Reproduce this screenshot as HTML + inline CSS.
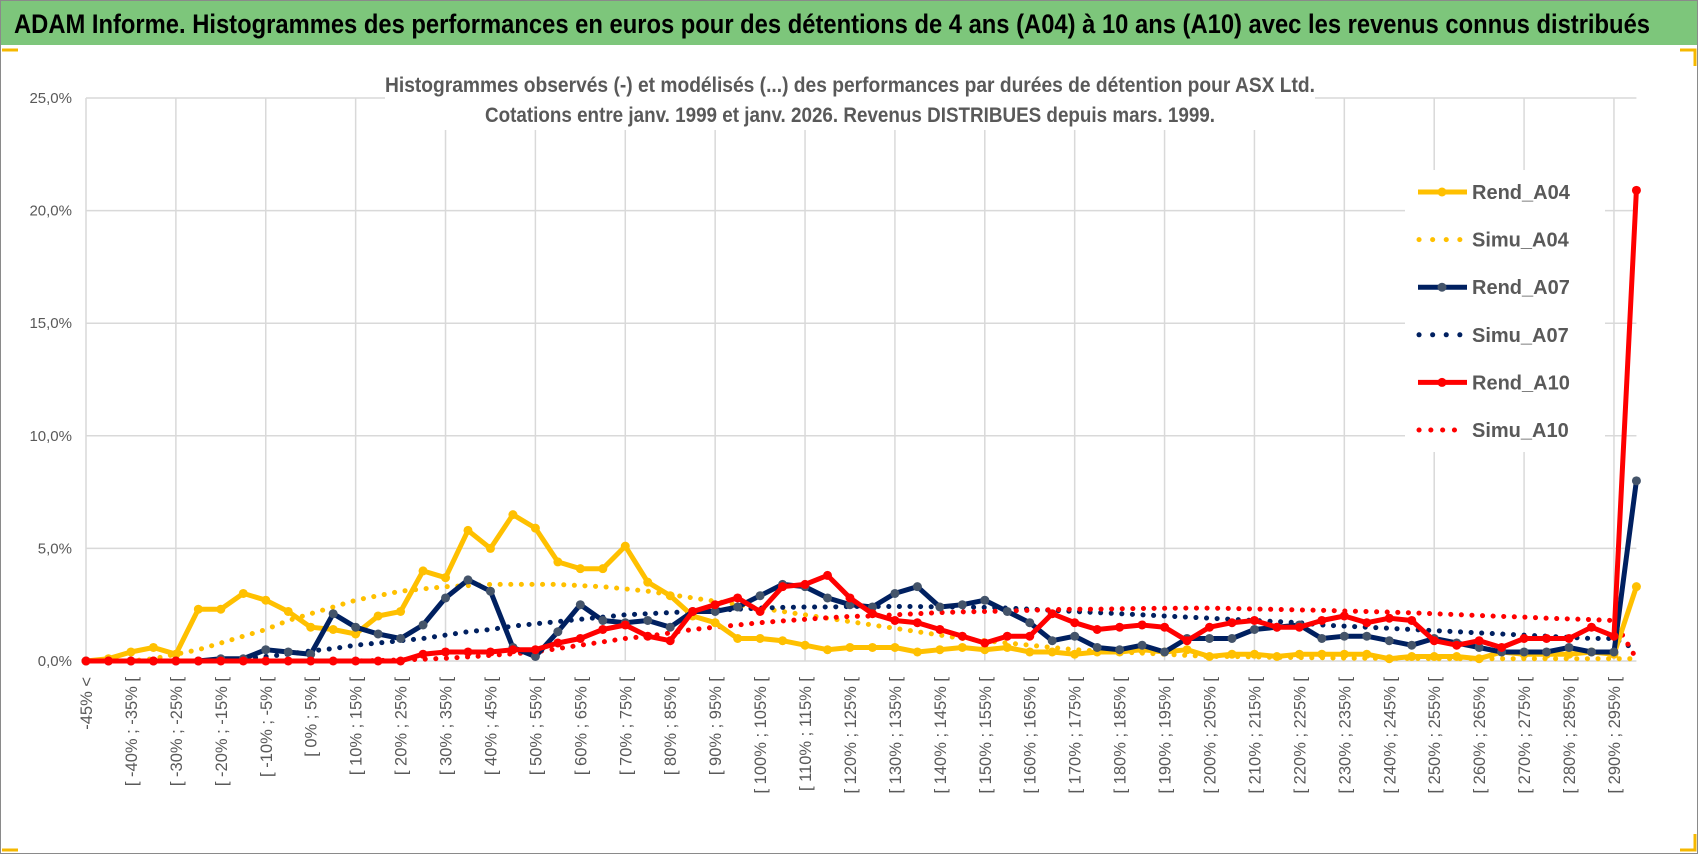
<!DOCTYPE html>
<html><head><meta charset="utf-8"><style>
html,body{margin:0;padding:0;background:#fff;}
svg{display:block;font-family:"Liberation Sans Narrow","Liberation Sans",sans-serif;}
</style></head><body>
<svg id="c" width="1698" height="854" viewBox="0 0 1698 854" xmlns="http://www.w3.org/2000/svg">
<rect x="0.5" y="0.5" width="1697" height="853" fill="#fff" stroke="#8a8a8a"/>
<rect x="1" y="1" width="1696" height="44" fill="#7dc67b"/>
<text x="14" y="33" font-size="27" font-weight="bold" fill="#000" textLength="1636" lengthAdjust="spacingAndGlyphs">ADAM Informe. Histogrammes des performances en euros pour des détentions de 4 ans (A04) à 10 ans (A10) avec les revenus connus distribués</text>
<path d="M2 50 H18 M1680 50 H1695 V66 M2 850 H18 M1680 850 H1695 V834" stroke="#f5b800" stroke-width="3" fill="none"/>
<g id="grid"></g>
<rect x="385" y="66" width="930" height="64" fill="#fff"/>
<text x="850" y="92" font-size="21" font-weight="bold" fill="#595959" text-anchor="middle" textLength="930" lengthAdjust="spacingAndGlyphs">Histogrammes observés (-) et modélisés (...) des performances par durées de détention pour ASX Ltd.</text>
<text x="850" y="122" font-size="21" font-weight="bold" fill="#595959" text-anchor="middle" textLength="730" lengthAdjust="spacingAndGlyphs">Cotations entre janv. 1999 et janv. 2026. Revenus DISTRIBUES depuis mars. 1999.</text>
<g id="yaxis"></g>
<g id="xaxis"></g>
<rect x="1405" y="170" width="200" height="282" fill="#fff"/>
<g id="series"></g>
<g id="legend"></g>
</svg>
<script>
const categories = [];
for (let i = 0; i < 70; i++) categories.push(i === 0 ? "-45% <" : "[ " + (-45 + 5 * (i - 1)) + "% ; " + (-40 + 5 * (i - 1)) + "% [");
const yTicks = [0, 5, 10, 15, 20, 25];
const yTickLabels = ["0,0%", "5,0%", "10,0%", "15,0%", "20,0%", "25,0%"];
const rendA04 = [0,0.1,0.4,0.6,0.3,2.3,2.3,3.0,2.7,2.2,1.5,1.4,1.2,2.0,2.2,4.0,3.7,5.8,5.0,6.5,5.9,4.4,4.1,4.1,5.1,3.5,2.9,2.0,1.7,1.0,1.0,0.9,0.7,0.5,0.6,0.6,0.6,0.4,0.5,0.6,0.5,0.6,0.4,0.4,0.3,0.4,0.4,0.5,0.4,0.5,0.2,0.3,0.3,0.2,0.3,0.3,0.3,0.3,0.1,0.2,0.2,0.2,0.1,0.4,0.3,0.3,0.3,0.4,0.3,3.3];
const simuA04 = [0,0,0,0.1,0.3,0.5,0.8,1.1,1.4,1.8,2.1,2.4,2.7,2.9,3.1,3.2,3.3,3.35,3.4,3.4,3.4,3.4,3.35,3.3,3.2,3.1,2.95,2.8,2.65,2.5,2.35,2.2,2.05,1.9,1.75,1.6,1.45,1.3,1.15,1.0,0.9,0.8,0.7,0.6,0.5,0.45,0.4,0.35,0.3,0.25,0.2,0.2,0.18,0.16,0.15,0.14,0.13,0.12,0.12,0.11,0.1,0.1,0.1,0.1,0.1,0.1,0.1,0.1,0.1,0.1];
const rendA07 = [0,0,0,0,0,0,0.1,0.1,0.5,0.4,0.3,2.1,1.5,1.2,1.0,1.6,2.8,3.6,3.1,0.6,0.2,1.3,2.5,1.8,1.7,1.8,1.5,2.2,2.2,2.4,2.9,3.4,3.3,2.8,2.5,2.4,3.0,3.3,2.4,2.5,2.7,2.2,1.7,0.9,1.1,0.6,0.5,0.7,0.4,1.0,1.0,1.0,1.4,1.5,1.6,1.0,1.1,1.1,0.9,0.7,1.0,0.8,0.6,0.4,0.4,0.4,0.6,0.4,0.4,8.0];
const simuA07 = [0,0,0,0,0,0,0.05,0.1,0.2,0.3,0.45,0.55,0.7,0.8,0.9,1.0,1.15,1.3,1.4,1.55,1.65,1.75,1.85,1.95,2.05,2.1,2.15,2.2,2.25,2.3,2.35,2.38,2.4,2.4,2.42,2.42,2.42,2.42,2.4,2.4,2.38,2.35,2.3,2.25,2.2,2.15,2.1,2.05,2.0,1.95,1.9,1.85,1.8,1.75,1.7,1.6,1.55,1.5,1.45,1.4,1.35,1.3,1.25,1.2,1.15,1.1,1.05,1.0,1.0,0.5];
const rendA10 = [0,0,0,0,0,0,0,0,0,0,0,0,0,0,0,0.3,0.4,0.4,0.4,0.5,0.5,0.8,1.0,1.4,1.6,1.1,0.9,2.2,2.5,2.8,2.2,3.3,3.4,3.8,2.8,2.1,1.8,1.7,1.4,1.1,0.8,1.1,1.1,2.1,1.7,1.4,1.5,1.6,1.5,0.9,1.5,1.7,1.8,1.5,1.5,1.8,2.0,1.7,1.9,1.8,0.9,0.7,0.9,0.6,1.0,1.0,1.0,1.5,1.1,20.9];
const simuA10 = [0,0,0,0,0,0,0,0,0,0,0,0,0,0.02,0.05,0.08,0.12,0.18,0.25,0.32,0.4,0.55,0.7,0.85,1.0,1.1,1.25,1.4,1.5,1.6,1.7,1.78,1.85,1.92,1.98,2.0,2.05,2.1,2.15,2.18,2.2,2.22,2.25,2.28,2.3,2.3,2.32,2.33,2.34,2.35,2.35,2.33,2.31,2.29,2.27,2.25,2.22,2.2,2.17,2.14,2.1,2.06,2.02,1.98,1.95,1.9,1.87,1.84,1.8,0.1];

const NS = "http://www.w3.org/2000/svg";
const X0 = 86, DX = 22.47, Y0 = 661, PX = 22.52;
function xs(i) { return X0 + i * DX; }
function ys(v) { return Y0 - v * PX; }
function mk(tag, attrs, parent) {
  const e = document.createElementNS(NS, tag);
  for (const k in attrs) e.setAttribute(k, attrs[k]);
  parent.appendChild(e);
  return e;
}
const grid = document.getElementById('grid');
yTicks.forEach((t, k) => {
  const l = mk('line', {x1: X0, x2: xs(69), y1: ys(t), y2: ys(t), stroke: '#d9d9d9', 'stroke-width': 1.5}, grid);
  
  
});
for (let i = 0; i < 70; i += 4) {
  const l = mk('line', {x1: xs(i), x2: xs(i), y1: ys(25), y2: Y0, stroke: '#d9d9d9', 'stroke-width': 1.5}, grid);
  
  
}
const ya = document.getElementById('yaxis');
yTicks.forEach((t, k) => {
  const tx = mk('text', {x: 72, y: ys(t) + 5, 'font-size': 15, fill: '#595959', 'text-anchor': 'end'}, ya);
  tx.textContent = yTickLabels[k];
  
  
});
const xa = document.getElementById('xaxis');
for (let i = 0; i < 70; i += 2) {
  const tx = mk('text', {x: 0, y: 0, 'font-size': 16.5, fill: '#595959', 'text-anchor': 'end', transform: 'translate(' + (xs(i) + 6) + ',677) rotate(-90)'}, xa);
  tx.textContent = categories[i];
  
  
}
const sg = document.getElementById('series');
function dotted(vals, color, name) {
  const d = vals.map((v, i) => (i ? 'L' : 'M') + xs(i).toFixed(1) + ' ' + ys(v).toFixed(1)).join(' ');
  const p = mk('path', {d: d, fill: 'none', stroke: color, 'stroke-width': 5, 'stroke-linecap': 'round', 'stroke-dasharray': '0.1 10.5'}, sg);
  
  
}
function solid(vals, color, mcolor, name) {
  const g = mk('g', {}, sg);
  
  
  const d = vals.map((v, i) => (i ? 'L' : 'M') + xs(i).toFixed(1) + ' ' + ys(v).toFixed(1)).join(' ');
  mk('path', {d: d, fill: 'none', stroke: color, 'stroke-width': 5, 'stroke-linejoin': 'round'}, g);
  vals.forEach((v, i) => {
    const c = mk('circle', {cx: xs(i), cy: ys(v), r: 4.5, fill: mcolor}, g);
    
    
  });
}
dotted(simuA04, '#ffc000', 'simu-a04-line');
dotted(simuA07, '#002060', 'simu-a07-line');
dotted(simuA10, '#ff0000', 'simu-a10-line');
solid(rendA04, '#ffc000', '#ffc000', 'rend-a04-line');
solid(rendA07, '#002060', '#44546a', 'rend-a07-line');
solid(rendA10, '#ff0000', '#ff0000', 'rend-a10-line');

const lg = document.getElementById('legend');
const legendNames = ['Rend_A04', 'Simu_A04', 'Rend_A07', 'Simu_A07', 'Rend_A10', 'Simu_A10'];
const legendColors = ['#ffc000', '#ffc000', '#002060', '#002060', '#ff0000', '#ff0000'];
const legendMarker = ['#ffc000', null, '#44546a', null, '#ff0000', null];
legendNames.forEach((n, k) => {
  const y = 192 + k * 47.6;
  const g = mk('g', {}, lg);
  
  
  if (legendMarker[k]) {
    mk('line', {x1: 1418, x2: 1467, y1: y, y2: y, stroke: legendColors[k], 'stroke-width': 5}, g);
    mk('circle', {cx: 1442, cy: y, r: 4.5, fill: legendMarker[k]}, g);
  } else {
    mk('path', {d: 'M1419 ' + y + ' H1466', stroke: legendColors[k], 'stroke-width': 5, 'stroke-linecap': 'round', 'stroke-dasharray': '0.1 ' + (k === 5 ? 11.7 : 13.5), fill: 'none'}, g);
  }
  const t = mk('text', {x: 1472, y: y + 7, 'font-size': 20, 'font-weight': 'bold', fill: '#595959'}, g);
  t.textContent = n;
});
</script>
</body></html>
